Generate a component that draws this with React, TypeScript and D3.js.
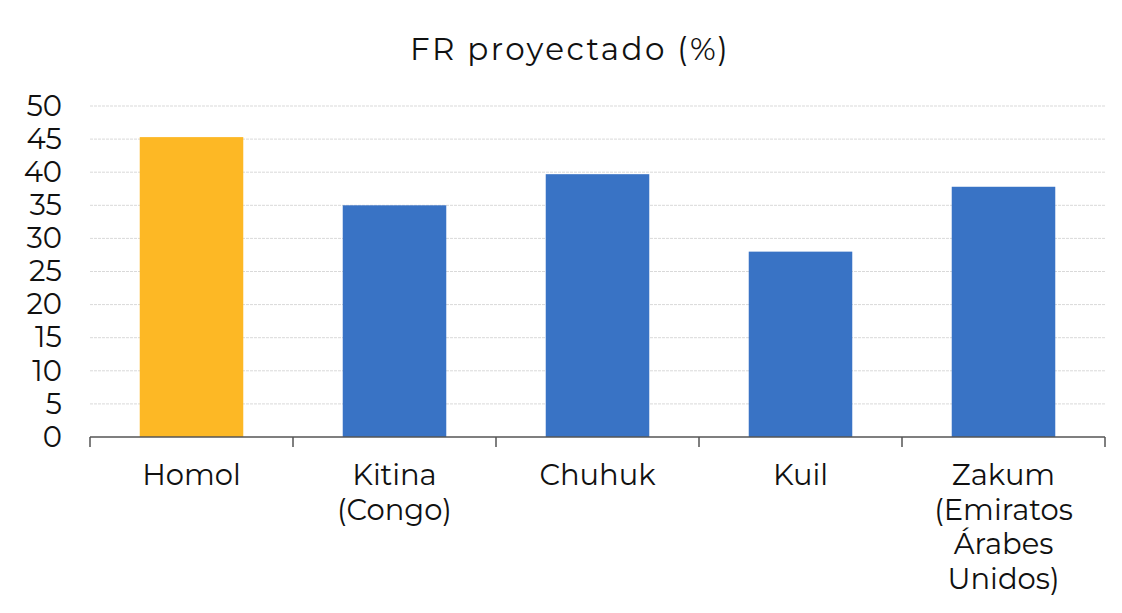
import React, { useRef, useEffect } from 'react'
import { select, scaleBand, scaleLinear, axisLeft } from 'd3'

const categories = ['Homol', 'Kitina (Congo)', 'Chuhuk', 'Kuil', 'Zakum (Emiratos Árabes Unidos)']
const labelLines = [['Homol'], ['Kitina', '(Congo)'], ['Chuhuk'], ['Kuil'], ['Zakum', '(Emiratos', 'Árabes', 'Unidos)']]
const values = [45.3, 35, 39.7, 28, 37.8]
const yTicks = [0, 5, 10, 15, 20, 25, 30, 35, 40, 45, 50]
const title = 'FR proyectado (%)'

export default function App() {
  const canvas = useRef(null)

  const W = 1122
  const H = 613
  const margin = { top: 106, right: 17, bottom: 176, left: 90 }
  const width = W - margin.left - margin.right
  const height = H - margin.top - margin.bottom
  const font = 'Montserrat, "DejaVu Sans", sans-serif'

  useEffect(() => {
    const root = select(canvas.current)
    root.selectAll('*').remove()
    root.append('rect').attr('width', W).attr('height', H).attr('fill', '#fff')

    const svg = root.append('g').attr('transform', `translate(${margin.left}, ${margin.top})`)

    const x = scaleBand().domain(categories).range([0, width]).paddingInner(0.49).paddingOuter(0.245)
    const y = scaleLinear().domain([0, 50]).range([height, 0])

    // gridlines
    svg.append('g').selectAll('line').data(yTicks.filter(d => d > 0)).join('line')
      .attr('x1', 0).attr('x2', width)
      .attr('y1', d => y(d)).attr('y2', d => y(d))
      .attr('stroke', '#d9d9d9').attr('stroke-width', 1).attr('stroke-dasharray', '3,1')

    // y labels
    const yAxis = svg.append('g').call(axisLeft(y).tickValues(yTicks).tickSize(0).tickPadding(28))
    yAxis.select('.domain').remove()
    yAxis.selectAll('text').attr('font-family', font).attr('font-size', 29).attr('fill', '#111')

    // bars
    svg.append('g').selectAll('rect').data(values).join('rect')
      .attr('x', (d, i) => x(categories[i]))
      .attr('y', d => y(d))
      .attr('width', x.bandwidth())
      .attr('height', d => height - y(d))
      .attr('fill', (d, i) => i === 0 ? '#FDB825' : '#3973C5')

    // x axis line and ticks at band edges
    svg.append('line').attr('x1', 0).attr('x2', width).attr('y1', height).attr('y2', height)
      .attr('stroke', '#555').attr('stroke-width', 1.5)
    const step = x.step()
    svg.append('g').selectAll('line').data(categories.concat(['end'])).join('line')
      .attr('x1', (d, i) => i * step).attr('x2', (d, i) => i * step)
      .attr('y1', height).attr('y2', height + 10)
      .attr('stroke', '#555').attr('stroke-width', 1.5)

    // x labels
    const lab = svg.append('g').selectAll('text').data(labelLines).join('text')
      .attr('font-family', font).attr('font-size', 29).attr('fill', '#111')
      .attr('text-anchor', 'middle')
      .attr('x', (d, i) => x(categories[i]) + x.bandwidth() / 2)
      .attr('y', height + 48)
    lab.selectAll('tspan').data(d => d).join('tspan')
      .attr('x', function () { return select(this.parentNode).attr('x') })
      .attr('dy', (d, i) => i === 0 ? 0 : 34.5)
      .text(d => d)

    // title
    root.append('text').attr('x', 570).attr('y', 60).attr('text-anchor', 'middle')
      .attr('font-family', font).attr('font-size', 31).attr('letter-spacing', 2.4)
      .attr('fill', '#111').text(title)
  })

  return (
    <svg ref={canvas} width={W} height={H} style={{ position: 'absolute', left: 0, top: 0 }} />
  )
}
